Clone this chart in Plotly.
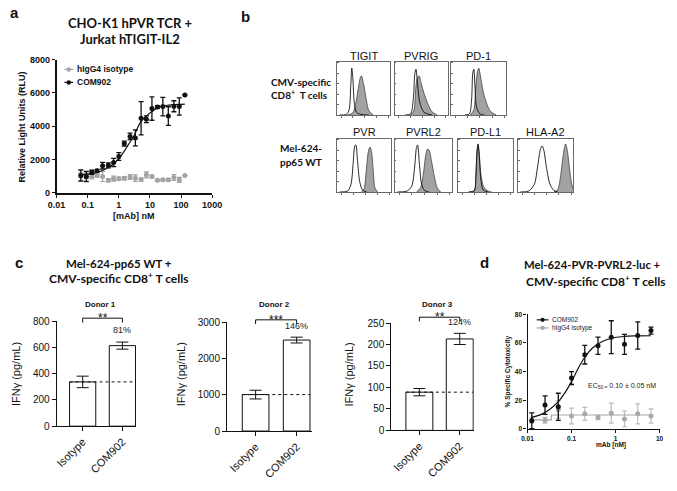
import plotly.graph_objects as go

W, H = 677, 491

# ---------------- Panel a data ----------------
a_conc = [0.06, 0.09, 0.135, 0.2, 0.3, 0.46, 0.68, 1.0, 1.5, 2.3, 3.4, 5.2, 7.7, 11.6, 17.4, 26, 39, 59, 88, 133]
a_com902 = [1040, 980, 1235, 1330, 1630, 1650, 1820, 2180, 2960, 3390, 3300, 4480, 4420, 5060, 5150, 5180, 4610, 5200, 5190, 5880]
a_com902_err = [330, 300, 120, 80, 200, 150, 250, 230, 150, 200, 480, 1000, 200, 700, 80, 560, 560, 330, 520, 0]
a_iso = [1050, 1000, 980, 1040, 980, 750, 850, 850, 870, 950, 880, 800, 1080, 980, 750, 780, 780, 920, 780, 1040]
a_iso_err = [150, 150, 150, 100, 300, 100, 150, 100, 100, 150, 200, 80, 180, 80, 60, 60, 60, 180, 150, 0]
a_fit_x = [0.06, 0.1, 0.2, 0.3, 0.5, 0.7, 1, 1.5, 2, 3, 5, 7, 10, 20, 40, 80, 133]
a_fit_y = [1080, 1120, 1230, 1340, 1560, 1760, 2050, 2500, 2880, 3400, 4250, 4550, 4800, 5150, 5270, 5310, 5330]
a_xticks = [0.01, 0.1, 1, 10, 100, 1000]
a_xticklabels = ["0.01", "0.1", "1", "10", "100", "1000"]
a_yticks = [0, 2000, 4000, 6000, 8000]

# ---------------- Panel b data (x: fraction of axis, y: normalised count) ----------------
b_markers = ["TIGIT", "PVRIG", "PD-1", "PVR", "PVRL2", "PD-L1", "HLA-A2"]
TIGIT_open = ([0.05, 0.18, 0.23, 0.26, 0.28, 0.30, 0.33, 0.37, 0.45, 0.6], [0, 0.01, 0.1, 0.55, 0.9, 0.7, 0.2, 0.05, 0.01, 0])
TIGIT_fill = ([0.2, 0.3, 0.36, 0.4, 0.44, 0.46, 0.5, 0.55, 0.6, 0.68], [0, 0.04, 0.25, 0.5, 0.72, 0.75, 0.6, 0.3, 0.08, 0])
PVRIG_open = ([0.2, 0.3, 0.35, 0.38, 0.40, 0.43, 0.47, 0.55, 0.7], [0, 0.02, 0.3, 0.8, 0.88, 0.6, 0.25, 0.05, 0])
PVRIG_fill = ([0.3, 0.36, 0.40, 0.43, 0.46, 0.50, 0.55, 0.62, 0.7, 0.8], [0, 0.08, 0.55, 0.72, 0.75, 0.6, 0.42, 0.22, 0.06, 0])
PD1_open = ([0.25, 0.33, 0.37, 0.39, 0.41, 0.43, 0.46, 0.52, 0.6], [0, 0.02, 0.3, 0.8, 0.88, 0.55, 0.15, 0.02, 0])
PD1_fill = ([0.35, 0.41, 0.45, 0.48, 0.50, 0.53, 0.58, 0.65, 0.72, 0.82], [0, 0.1, 0.6, 0.85, 0.9, 0.75, 0.45, 0.2, 0.06, 0])
PVR_open = ([0.05, 0.2, 0.26, 0.3, 0.33, 0.35, 0.38, 0.42, 0.47, 0.55], [0, 0.02, 0.15, 0.55, 0.88, 0.9, 0.6, 0.2, 0.04, 0])
PVR_fill = ([0.45, 0.5, 0.54, 0.58, 0.61, 0.64, 0.67, 0.7, 0.75], [0, 0.06, 0.4, 0.78, 0.86, 0.75, 0.4, 0.08, 0])
PVRL2_open = ([0.05, 0.22, 0.3, 0.35, 0.38, 0.40, 0.43, 0.47, 0.52, 0.6], [0, 0.02, 0.12, 0.5, 0.85, 0.9, 0.55, 0.15, 0.03, 0])
PVRL2_fill = ([0.38, 0.45, 0.5, 0.54, 0.57, 0.6, 0.64, 0.69, 0.74, 0.8], [0, 0.08, 0.35, 0.7, 0.82, 0.8, 0.6, 0.3, 0.08, 0])
PDL1_open = ([0.2, 0.3, 0.33, 0.35, 0.37, 0.39, 0.42, 0.46, 0.55], [0, 0.02, 0.3, 0.75, 0.92, 0.7, 0.25, 0.04, 0])
PDL1_fill = ([0.2, 0.3, 0.33, 0.35, 0.37, 0.39, 0.42, 0.47, 0.55, 0.62], [0, 0.03, 0.35, 0.8, 0.9, 0.75, 0.35, 0.1, 0.02, 0])
HLA_open = ([0.05, 0.2, 0.3, 0.36, 0.41, 0.44, 0.47, 0.52, 0.58, 0.65, 0.72], [0, 0.02, 0.15, 0.5, 0.82, 0.88, 0.8, 0.45, 0.15, 0.03, 0])
HLA_fill = ([0.65, 0.72, 0.77, 0.81, 0.84, 0.86, 0.89, 0.93, 0.97, 1.0], [0, 0.05, 0.3, 0.65, 0.85, 0.92, 0.8, 0.45, 0.15, 0.05])

# ---------------- Panel c data ----------------
c_groups = ["Isotype", "COM902"]
c1_mean = [338, 615]
c1_err = [44, 27]
c2_mean = [1004, 2505]
c2_err = [120, 80]
c3_mean = [89, 213]
c3_err = [8.5, 13]
c_pct = ["81%", "146%", "124%"]
c_sig = ["**", "***", "**"]
c_donor = ["Donor 1", "Donor 2", "Donor 3"]
c1_yticks = [0, 200, 400, 600, 800]
c2_yticks = [0, 1000, 2000, 3000]
c3_yticks = [0, 50, 100, 150, 200, 250]

# ---------------- Panel d data ----------------
d_conc = [0.0125, 0.025, 0.05, 0.1, 0.2, 0.4, 0.8, 1.6, 3.2, 6.4]
d_com902 = [5.7, 16.6, 15.4, 35.5, 51.8, 58, 64, 59, 65.2, 68.6]
d_com902_err = [5.5, 6.5, 9.5, 4.5, 6.5, 6, 11.5, 7, 9.5, 2.5]
d_iso = [6, 6, 13.5, 9, 10.5, 8, 11, 7, 10.5, 9]
d_iso_err = [2, 2, 6, 5.5, 4.5, 1.5, 7, 5.5, 7, 5]
d_fit_x = [0.0125, 0.02, 0.03, 0.05, 0.07, 0.1, 0.14, 0.2, 0.3, 0.5, 0.8, 1.5, 3, 6.4]
d_fit_y = [8, 10, 13, 19, 25, 33, 42, 50, 56.5, 61, 63.3, 64.5, 64.9, 65]
d_iso_fit_x = [0.0125, 0.035, 6.4]
d_iso_fit_y = [6.3, 9.7, 9.7]
d_xticks = [0.01, 0.1, 1, 10]
d_xticklabels = ["0.01", "0.1", "1", "10"]
d_yticks = [0, 20, 40, 60, 80]

BLACK = "#111111"
GRAY = "#a3a3a3"
ARIAL = "Liberation Sans"
TITLEF = "Lato"


def fx(p):
    return p / W


def fy(p):
    return 1 - p / H


def dom_x(a, b):
    return [fx(a), fx(b)]


def dom_y(top, bottom):
    return [fy(bottom), fy(top)]


fig = go.Figure()
annotations = []
shapes = []


def ann(text, x, y, size, family=ARIAL, xanchor="center", yanchor="middle", angle=0, color=BLACK):
    annotations.append(dict(text=text, x=fx(x), y=fy(y), xref="paper", yref="paper",
                            showarrow=False, xanchor=xanchor, yanchor=yanchor, textangle=angle,
                            font=dict(family=family, size=size, color=color)))


# ================= Panel a =================
fig.add_trace(go.Scatter(x=a_conc, y=a_iso, mode="markers", marker=dict(color=GRAY, size=5),
                         error_y=dict(type="data", array=a_iso_err, color=GRAY, thickness=1.2, width=2.5),
                         xaxis="x", yaxis="y", cliponaxis=False, showlegend=False))
fig.add_trace(go.Scatter(x=a_fit_x, y=a_fit_y, mode="lines", line=dict(color=BLACK, width=1.2, shape="spline"),
                         xaxis="x", yaxis="y", showlegend=False))
fig.add_trace(go.Scatter(x=a_conc, y=a_com902, mode="markers", marker=dict(color=BLACK, size=5),
                         error_y=dict(type="data", array=a_com902_err, color=BLACK, thickness=1.3, width=2.5),
                         xaxis="x", yaxis="y", cliponaxis=False, showlegend=False))

axis_a = dict(showline=True, linecolor=BLACK, linewidth=1.5, ticks="outside", ticklen=3, tickwidth=1.3,
              tickcolor=BLACK, showgrid=False, zeroline=False,
              tickfont=dict(family=ARIAL, size=9, color=BLACK, weight="bold"))
layout_axes = {}
layout_axes["xaxis"] = dict(axis_a, type="log", range=[-2, 3], domain=dom_x(49, 209), anchor="y",
                            tickvals=a_xticks, ticktext=a_xticklabels)
layout_axes["yaxis"] = dict(axis_a, range=[0, 8000], domain=dom_y(55, 191.5), anchor="x", tickvals=a_yticks)

ann("<b>a</b>", 6, 7, 15)
ann("<b>CHO-K1 hPVR TCR +</b>", 124, 17, 13, family=TITLEF)
ann("<b>Jurkat hTIGIT-IL2</b>", 124, 33.5, 13, family=TITLEF)
ann("<b>Relative Light Units (RLU)</b>", 13, 124, 9, angle=-90)
ann("<b>[mAb] nM</b>", 129, 215, 9)
# legend a
for yy, col, lab in [(65, GRAY, "hIgG4 isotype"), (78.3, BLACK, "COM902")]:
    shapes.append(dict(type="line", xref="paper", yref="paper", x0=fx(57), x1=fx(66), y0=fy(yy), y1=fy(yy),
                       line=dict(color=col, width=1.2)))
    shapes.append(dict(type="circle", xref="paper", yref="paper", x0=fx(59.2), x1=fx(63.8), y0=fy(yy + 2.3),
                       y1=fy(yy - 2.3), fillcolor=col, line=dict(color=col, width=0)))
    ann("<b>%s</b>" % lab, 68, yy, 8.5, xanchor="left")

# ================= Panel b =================
ann("<b>b</b>", 243, 11, 15)
b_boxes = [
    (TIGIT_open, TIGIT_fill, 337.3, 392.3, 57.3, 111.7),
    (PVRIG_open, PVRIG_fill, 396.7, 451.7, 57.3, 111.7),
    (PD1_open, PD1_fill, 455, 511.7, 57.3, 111.7),
    (PVR_open, PVR_fill, 337.3, 393.3, 136, 190.7),
    (PVRL2_open, PVRL2_fill, 396.7, 456, 136, 190.7),
    (PDL1_open, PDL1_fill, 461.7, 518.3, 136, 190.7),
    (HLA_open, HLA_fill, 523.3, 580.7, 136, 190.7),
]
for i, (op, fl, x0, x1, y0, y1) in enumerate(b_boxes):
    n = i + 2
    xa, ya = "x%d" % n, "y%d" % n
    fig.add_trace(go.Scatter(x=fl[0], y=fl[1], mode="lines", fill="tozeroy", fillcolor="#a2a2a2",
                             line=dict(color="#444444", width=0.8, shape="spline", smoothing=0.8),
                             xaxis=xa, yaxis=ya, showlegend=False))
    fig.add_trace(go.Scatter(x=op[0], y=op[1], mode="lines",
                             line=dict(color=BLACK, width=0.9, shape="spline", smoothing=0.8),
                             xaxis=xa, yaxis=ya, showlegend=False))
    common = dict(showline=True, mirror=True, linecolor="#6a6a6a", linewidth=0.8, showgrid=False,
                  zeroline=False, showticklabels=False, tickcolor="#6a6a6a", tickwidth=0.6, ticklen=2)
    layout_axes["xaxis%d" % n] = dict(common, range=[0, 1], domain=dom_x(x0, x1), anchor=ya, ticks="outside",
                                      tickvals=[0.08, 0.3, 0.52, 0.74, 0.96])
    layout_axes["yaxis%d" % n] = dict(common, range=[0, 1.02], domain=dom_y(y0, y1), anchor=xa, ticks="inside",
                                      tickvals=[0, 0.2, 0.4, 0.6, 0.8, 1.0])
    ann(b_markers[i], (x0 + x1) / 2, y0 - 6.5, 11)

ann("<b>CMV-specific</b>", 268, 78, 10, family=TITLEF, xanchor="left")
ann("<b>CD8<sup>+</sup>  T cells</b>", 268, 91, 10, family=TITLEF, xanchor="left")
ann("<b>Mel-624-</b>", 277, 146, 10, family=TITLEF, xanchor="left")
ann("<b>pp65 WT</b>", 277, 159.5, 10, family=TITLEF, xanchor="left")

# ================= Panel c =================
ann("<b>c</b>", 10, 263, 15)
ann("<b>Mel-624-pp65 WT +</b>", 113, 264, 11.5, family=TITLEF)
ann("<b>CMV-specific CD8<sup>+</sup> T cells</b>", 113, 278.5, 12, family=TITLEF)

c_specs = [
    (9, c1_mean, c1_err, c1_yticks, 800, 49, 131, 323.3, 430.7, [-0.655, 1.35], 0.66, 320, 324.5, 319.5, 305.5, 339, 7),
    (10, c2_mean, c2_err, c2_yticks, 3000, 224.3, 312, 324, 435.7, [-0.697, 1.38], 0.65, 321.7, 326, 321.5, 306, 335.7, 177),
    (11, c3_mean, c3_err, c3_yticks, 250, 393.3, 478.3, 325, 435, [-0.696, 1.35], 0.667, 319, 323.3, 318.5, 306, 330.8, 350),
]
for k, (n, mean, err, yt, ymax, x0, x1, y0, y1, xr, bw, brk_top, brk_bot, sig_y, don_y, pct_y, ytit_x) in enumerate(c_specs):
    xa, ya = "x%d" % n, "y%d" % n
    fig.add_trace(go.Bar(x=[0, 1], y=mean, width=bw,
                         marker=dict(color="white", line=dict(color=BLACK, width=1)),
                         error_y=dict(type="data", array=err, color=BLACK, thickness=1, width=6),
                         xaxis=xa, yaxis=ya, showlegend=False))
    fig.add_trace(go.Scatter(x=[-bw / 2, 1 + bw / 2], y=[mean[0], mean[0]], mode="lines",
                             line=dict(color=BLACK, width=1, dash="dot"), xaxis=xa, yaxis=ya, showlegend=False))
    common = dict(showline=True, linecolor=BLACK, linewidth=1, ticks="outside", ticklen=4, tickwidth=1,
                  tickcolor=BLACK, showgrid=False, zeroline=False)
    layout_axes["xaxis%d" % n] = dict(common, range=xr, domain=dom_x(x0, x1), anchor=ya, tickvals=[0, 1],
                                      ticktext=c_groups, tickangle=-45,
                                      tickfont=dict(family=ARIAL, size=11, color=BLACK))
    layout_axes["yaxis%d" % n] = dict(common, range=[0, ymax], domain=dom_y(y0, y1), anchor=xa, tickvals=yt,
                                      tickfont=dict(family=ARIAL, size=10, color=BLACK))
    shapes.append(dict(type="path", xref=xa, yref="paper",
                       path="M 0,%f L 0,%f L 1,%f L 1,%f" % (fy(brk_bot), fy(brk_top), fy(brk_top), fy(brk_bot)),
                       line=dict(color=BLACK, width=1)))
    annotations.append(dict(text=c_sig[k], x=0.5, y=fy(sig_y), xref=xa, yref="paper", showarrow=False,
                            font=dict(family=ARIAL, size=12, color=BLACK)))
    annotations.append(dict(text="<b>%s</b>" % c_donor[k], x=0.45, y=fy(don_y), xref=xa, yref="paper",
                            showarrow=False, font=dict(family=ARIAL, size=8, color=BLACK)))
    annotations.append(dict(text=c_pct[k], x=1.0, y=fy(pct_y), xref=xa, yref="paper", showarrow=False,
                            font=dict(family=ARIAL, size=9, color="#222")))
    ann("IFN\u03b3 (pg/mL)", ytit_x, 377.5, 11, angle=-90)

# ================= Panel d =================
ann("<b>d</b>", 489, 263, 15)
ann("<b>Mel-624-PVR-PVRL2-luc +</b>", 600.5, 265, 11.3, family=TITLEF)
ann("<b>CMV-specific CD8<sup>+</sup> T cells</b>", 603, 282, 12, family=TITLEF)

fig.add_trace(go.Scatter(x=d_conc, y=d_iso, mode="markers", marker=dict(color="#a8a8a8", size=5),
                         error_y=dict(type="data", array=d_iso_err, color="#bdbdbd", thickness=1.2, width=2.5),
                         xaxis="x12", yaxis="y12", cliponaxis=False, showlegend=False))
fig.add_trace(go.Scatter(x=d_iso_fit_x, y=d_iso_fit_y, mode="lines", line=dict(color="#a8a8a8", width=1.2, shape="hv"),
                         xaxis="x12", yaxis="y12", showlegend=False))
fig.add_trace(go.Scatter(x=d_fit_x, y=d_fit_y, mode="lines", line=dict(color=BLACK, width=1.2, shape="spline"),
                         xaxis="x12", yaxis="y12", showlegend=False))
fig.add_trace(go.Scatter(x=d_conc, y=d_com902, mode="markers", marker=dict(color=BLACK, size=5),
                         error_y=dict(type="data", array=d_com902_err, color=BLACK, thickness=1.3, width=2.5),
                         xaxis="x12", yaxis="y12", cliponaxis=False, showlegend=False))
axis_d = dict(showline=True, linecolor=BLACK, linewidth=1.3, ticks="outside", ticklen=3, tickwidth=1.1,
              tickcolor=BLACK, showgrid=False, zeroline=False,
              tickfont=dict(family=ARIAL, size=6.5, color=BLACK, weight="bold"))
layout_axes["xaxis12"] = dict(axis_d, type="log", range=[-2, 1], domain=dom_x(533.5, 669.3), anchor="y12",
                              tickvals=d_xticks, ticktext=d_xticklabels)
layout_axes["yaxis12"] = dict(axis_d, range=[0, 80], domain=dom_y(316, 433.5), anchor="x12", tickvals=d_yticks)
ann("<b>% Specific Cytotoxicity</b>", 513, 375, 6.5, angle=-90)
ann("<b>mAb [nM]</b>", 619, 450, 6.5)
ann("EC<sub>50 =</sub> 0.10 \u00b1 0.05 nM", 594, 390, 7, xanchor="left", color="#222")
for yy, col, lab in [(321.7, BLACK, "COM902"), (330, "#a8a8a8", "hIgG4 isotype")]:
    shapes.append(dict(type="line", xref="paper", yref="paper", x0=fx(543), x1=fx(555), y0=fy(yy), y1=fy(yy),
                       line=dict(color=col, width=1.2)))
    shapes.append(dict(type="circle", xref="paper", yref="paper", x0=fx(546.8), x1=fx(551.2), y0=fy(yy + 2.2),
                       y1=fy(yy - 2.2), fillcolor=col, line=dict(color=col, width=0)))
    ann(lab, 557, yy, 6.5, xanchor="left", color="#222")

fig.update_layout(width=W, height=H, margin=dict(l=0, r=0, t=0, b=0), paper_bgcolor="white",
                  plot_bgcolor="rgba(0,0,0,0)", showlegend=False, annotations=annotations, shapes=shapes,
                  **layout_axes)
fig.write_html("out.html", config={"displayModeBar": False},
               post_script="document.body.style.margin='0px';document.body.style.padding='0px';"
                           "document.body.style.overflow='hidden';")
